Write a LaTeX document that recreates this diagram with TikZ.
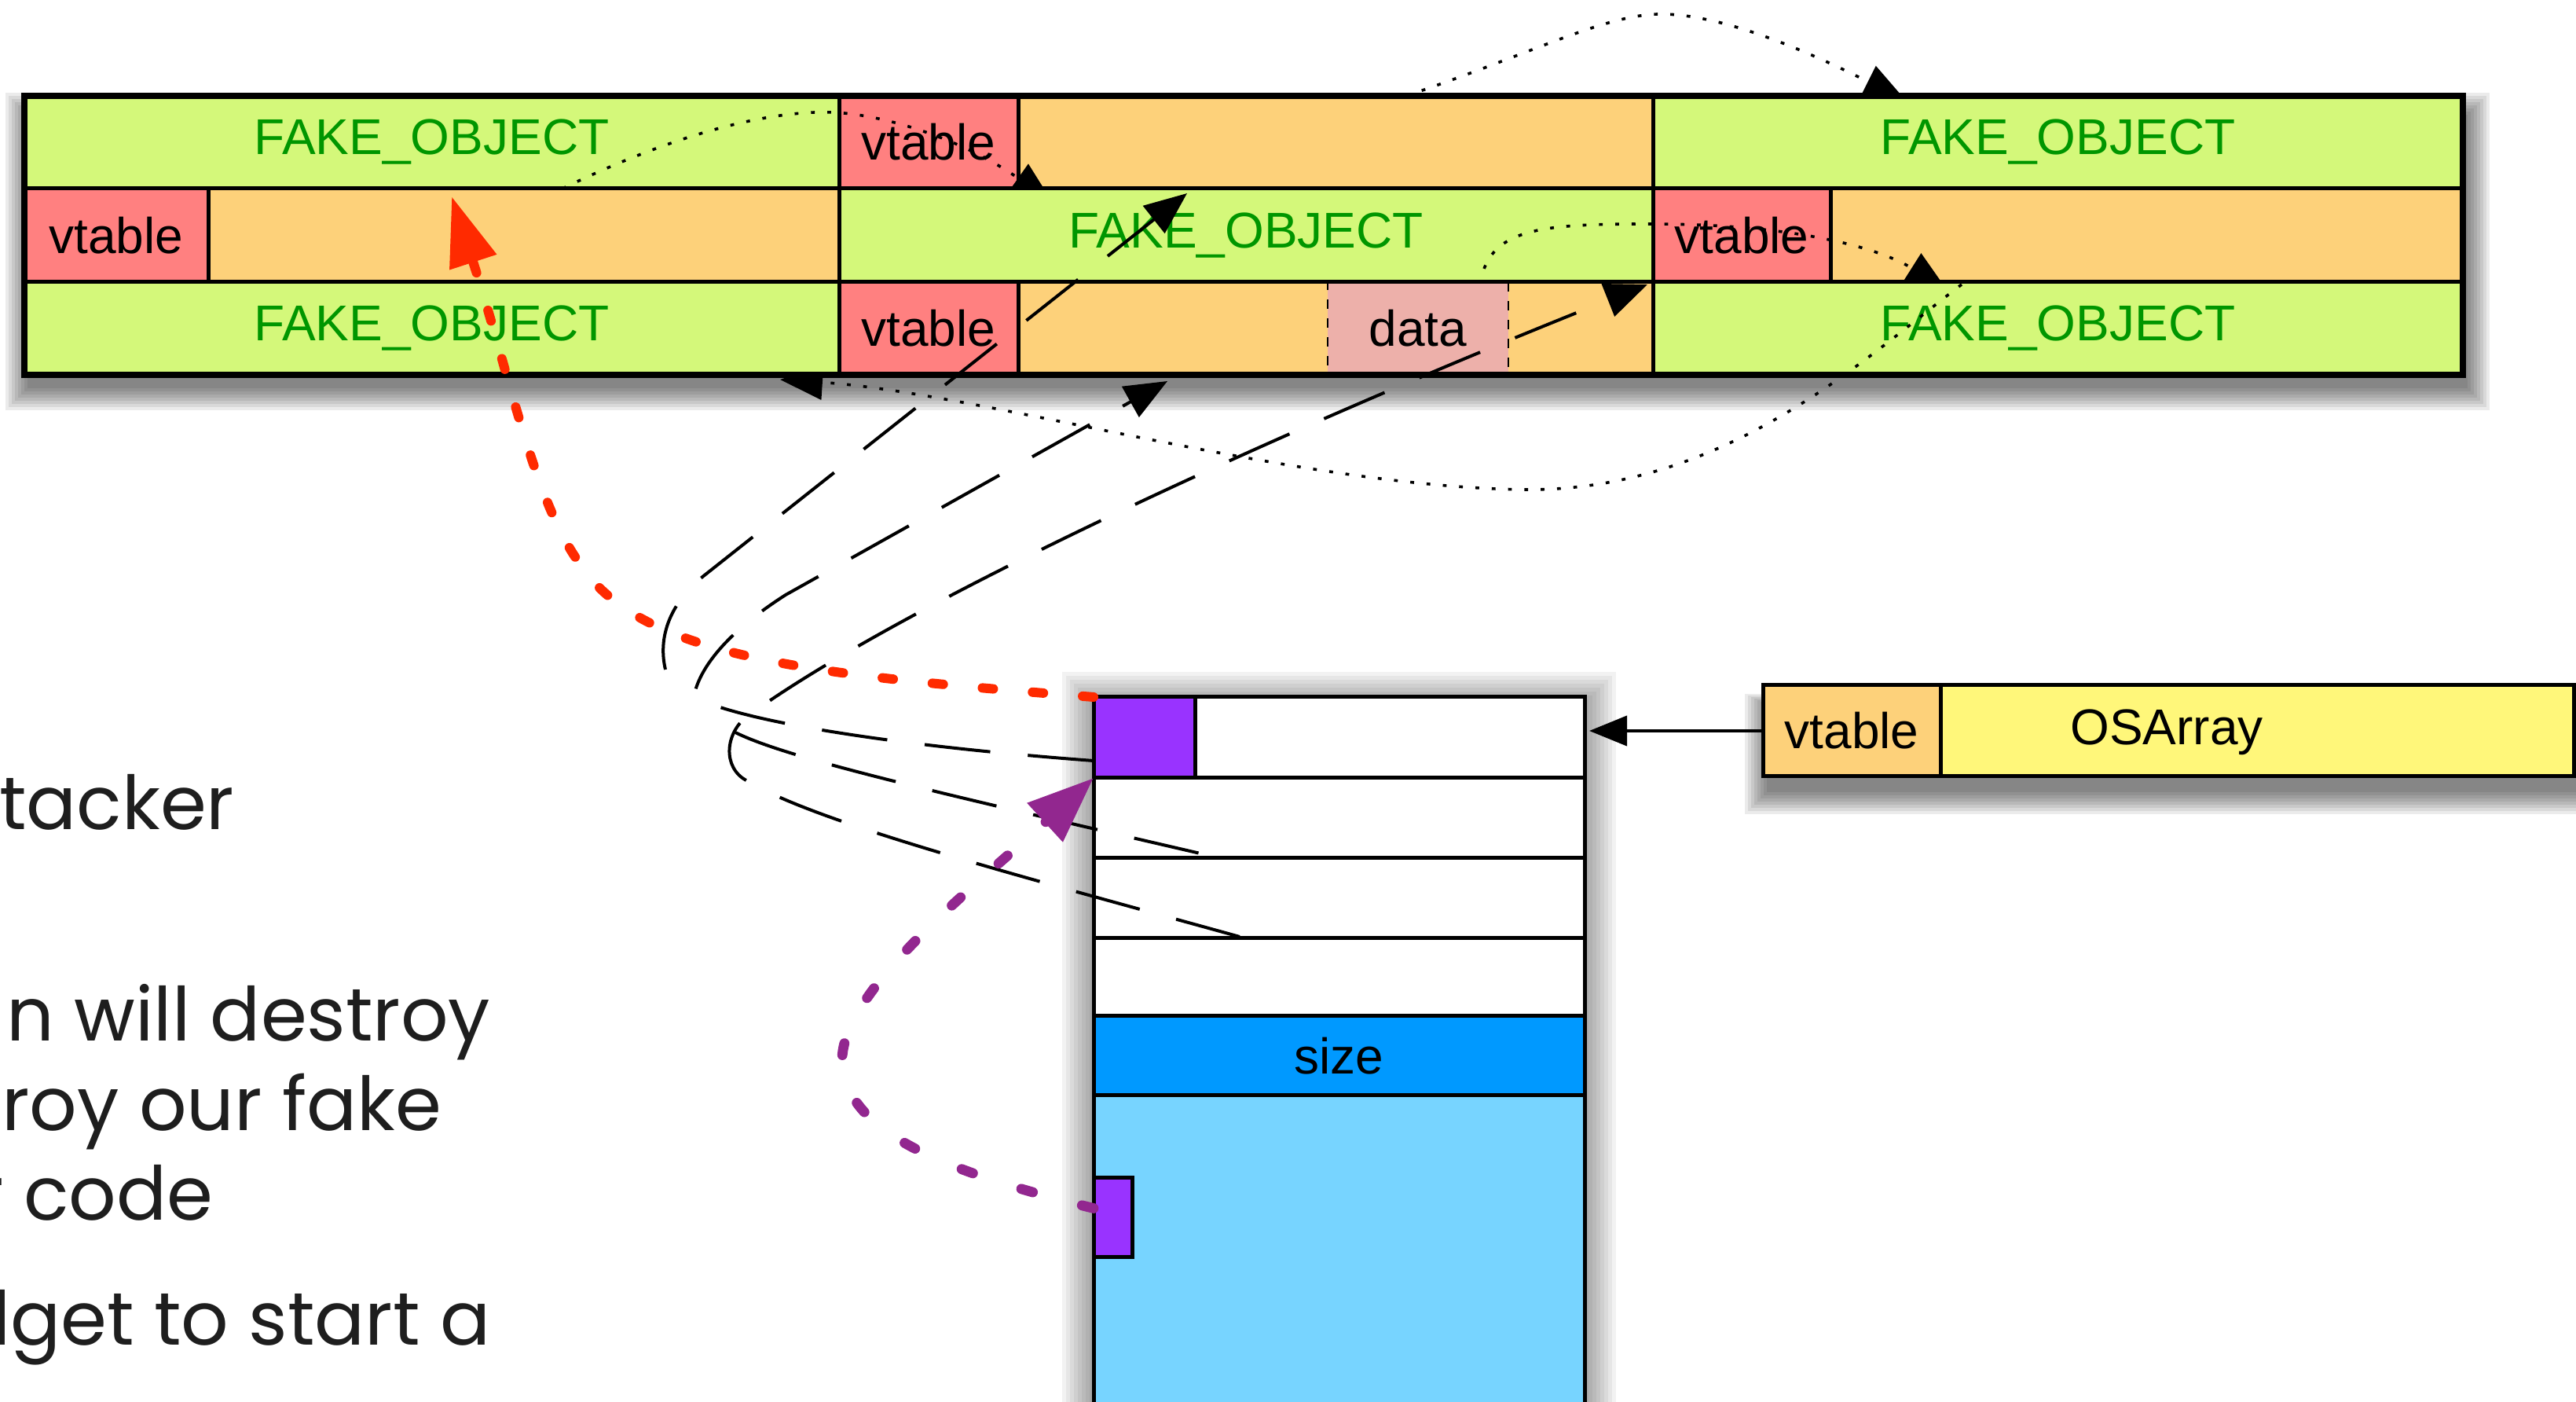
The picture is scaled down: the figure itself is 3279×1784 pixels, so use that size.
\documentclass[tikz,border=0pt]{standalone}
\usepackage{fontspec}
\setmainfont{Liberation Sans}
\newfontfamily\slidefont{Poppins}
\usetikzlibrary{arrows.meta,fit}

\definecolor{fakegreen}{RGB}{212,248,122}
\definecolor{faketext}{RGB}{0,150,0}
\definecolor{vtred}{RGB}{255,128,128}
\definecolor{slotorange}{RGB}{253,209,122}
\definecolor{datapink}{RGB}{237,176,170}
\definecolor{objpurple}{RGB}{153,51,255}
\definecolor{sizeblue}{RGB}{0,153,255}
\definecolor{storeblue}{RGB}{119,212,255}
\definecolor{osyellow}{RGB}{255,247,122}
\definecolor{hijackred}{RGB}{255,42,0}
\definecolor{pivotpurple}{RGB}{146,39,143}
\definecolor{slideink}{RGB}{30,30,30}

\begin{document}
\begin{tikzpicture}[x=0.25pt, y=-0.25pt,
  cell/.style={draw=black, line width=1.25pt, inner sep=0pt, outer sep=0pt},
  lbl/.style={font=\fontsize{16}{19}\selectfont, inner sep=0pt},
  fake/.style={lbl, text=faketext},
  arrowtip/.style={-{Triangle[length=13.5pt,width=11pt]}},
  ptr/.style={arrowtip, line width=1pt, dash pattern=on 21pt off 12pt},
  tail/.style={line width=1pt, dash pattern=on 21pt off 12pt},
  link/.style={arrowtip, line width=0.9pt, dash pattern=on 1.2pt off 4pt},
  hijack/.style={draw=hijackred, line width=3pt, line cap=round,
    dash pattern=on 3.5pt off 12.5pt, -{Triangle[length=22pt,width=15pt]}},
  pivot/.style={draw=pivotpurple, line width=3.2pt, line cap=round,
    dash pattern=on 3.8pt off 16.2pt, -{Triangle[length=21pt,width=16pt]}},
  slide/.style={font=\slidefont\fontsize{23.7}{28}\selectfont, text=slideink,
    inner sep=0pt, anchor=base east},
]
\useasboundingbox (0,0) rectangle (3279,1784);
\clip (0,0) rectangle (3279,1784);

% ---------- soft shadows ----------
\foreach \r in {0,4,...,28}{
  \fill[black, opacity=0.08] (35-\r,146-\r) rectangle (3141+\r,494+\r);
}
\foreach \r in {0,5,...,40}{
  \fill[black, opacity=0.05] (1392-\r,895-\r) rectangle (2017+\r,1800);
}
\foreach \r in {0,4,...,28}{
  \fill[black, opacity=0.08] (2249-\r,897-\r/2) rectangle (3300,1008+\r);
}

% ---------- heap spray: three columns of fake objects ----------
\node[cell, fill=fakegreen, fit={(31,122) (1068,240)}] (f1) {};
\node[cell, fill=vtred, fit={(1068,122) (1296,240)}] (vt2) {};
\node[cell, fill=slotorange, fit={(1296,122) (2104,240)}] (o2) {};
\node[cell, fill=fakegreen, fit={(2104,122) (3135,240)}] (f3) {};

\node[cell, fill=vtred, fit={(31,240) (265,359)}] (vt1) {};
\node[cell, fill=slotorange, fit={(265,240) (1068,359)}] (o1) {};
\node[cell, fill=fakegreen, fit={(1068,240) (2104,359)}] (f2) {};
\node[cell, fill=vtred, fit={(2104,240) (2330,359)}] (vt3) {};
\node[cell, fill=slotorange, fit={(2330,240) (3135,359)}] (o3) {};

\node[cell, fill=fakegreen, fit={(31,359) (1068,477)}] (f4) {};
\node[cell, fill=vtred, fit={(1068,359) (1296,477)}] (vt4) {};
\node[cell, fill=slotorange, fit={(1296,359) (2104,477)}] (o4) {};
\node[cell, fill=fakegreen, fit={(2104,359) (3135,477)}] (f5) {};

\node[draw=black, dashed, line width=0.6pt, fill=datapink, inner sep=0pt,
  fit={(1690,359) (1920,477)}] (data) {};
\draw[line width=1.25pt] (f2.south west) -- (f2.south east);
\draw[line width=2pt] (f1.north west) rectangle (f5.south east);

\node[fake] (f1t) at (f1) {FAKE\_OBJECT};
\node[fake] (f2t) at (f2) {FAKE\_OBJECT};
\node[fake] (f3t) at (f3) {FAKE\_OBJECT};
\node[fake] (f4t) at (f4) {FAKE\_OBJECT};
\node[fake] (f5t) at (f5) {FAKE\_OBJECT};
\node[lbl] (vt1t) at (vt1) {vtable};
\node[lbl] (vt2t) at (vt2) {vtable};
\node[lbl] (vt3t) at (vt3) {vtable};
\node[lbl] (vt4t) at (vt4) {vtable};
\node[lbl] (datat) at (data) {data};

% ---------- OSArray storage ----------
\node[cell, fill=white, fit={(1392,887) (2017,990)}] (s0) {};
\node[cell, fill=objpurple, fit={(1392,887) (1521,990)}] (obj) {};
\node[cell, fill=white, fit={(1392,990) (2017,1092)}] (s1) {};
\node[cell, fill=white, fit={(1392,1092) (2017,1194)}] (s2) {};
\node[cell, fill=white, fit={(1392,1194) (2017,1293)}] (s3) {};
\node[cell, fill=sizeblue, fit={(1392,1293) (2017,1394)}] (size) {};
\node[cell, fill=storeblue, fit={(1392,1394) (2017,1810)}] (store) {};
\node[cell, fill=objpurple, fit={(1392,1499) (1441,1600)}] (gadget) {};
\node[lbl] (sizet) at (size) {size};

% ---------- OSArray object ----------
\node[cell, fill=slotorange, fit={(2244,872) (2470,988)}] (osvt) {};
\node[cell, fill=osyellow, fit={(2470,872) (3276,988)}] (osbody) {};
\node[lbl] (osvtt) at (osvt) {vtable};
\node[lbl] (osname) at (2758,932) {OSArray};
\draw[line width=1pt, -{Triangle[length=12pt,width=9.5pt]}]
  (osvt.west) -- ([xshift=1.5pt]s0.east |- osvt.west);

% ---------- slide text ----------
\node[slide] (t1) at (299,1056) {ttacker};
\node[slide] (t2) at (625,1325) {n will destroy};
\node[slide] (t3) at (563,1439) {roy our fake};
\node[slide] (t4) at (272,1553) {r code};
\node[slide] (t5) at (625,1712) {lget to start a};

% ---------- connector end points ----------
\coordinate (pBend) at (847,852);
\coordinate (pHead) at (1511,246);
\coordinate (qFoot) at (1392,968);
\coordinate (qCorner) at (883,887);
\coordinate (qHead) at (1486,485);
\coordinate (rFoot) at (1578,1192);
\coordinate (rHead) at (2097,362);
\coordinate (lBranch) at (934,931);
\coordinate (lFoot) at (1545,1090);
\coordinate (aStart) at (716,240);
\coordinate (aHead) at (1340,258);
\coordinate (bStart) at (1790,122);
\coordinate (bHead) at (2426,128);
\coordinate (cStart) at (1884,362);
\coordinate (cHead) at (2479,370);
\coordinate (dStart) at (2497,362);
\coordinate (dHead) at (993,483);
\coordinate (rTip) at (575,250);

% ---------- pointers from the array slots ----------
\draw[ptr] (pBend) .. controls (836,805) and (858,762) .. (898,731) -- (pHead);
\draw[ptr] (qFoot) .. controls (1150,950) and (950,920) .. (qCorner)
  .. controls (890,850) and (925,805) .. (1000,757) -- (qHead);
\draw[ptr] (rFoot) .. controls (1300,1115) and (1030,1045) .. (945,990)
  .. controls (918,970) and (925,925) .. (959,906)
  .. controls (1150,770) and (1600,560) .. (rHead);
\draw[tail] (lBranch) .. controls (1000,965) and (1200,1010) .. (lFoot);

% ---------- vtable links between fake objects ----------
\begin{scope}
  \clip (0,0) rectangle (3279,240);
  \draw[link] (aStart) .. controls (860,170) and (980,140) .. (1060,143)
    .. controls (1130,146) and (1230,180) .. (aHead);
\end{scope}
\begin{scope}
  \clip (0,0) rectangle (3279,122);
  \draw[link] (bStart) .. controls (1950,68) and (2040,20) .. (2110,18)
    .. controls (2200,16) and (2330,80) .. (bHead);
\end{scope}
\begin{scope}
  \clip (0,0) rectangle (3279,359);
  \draw[link] (cStart) .. controls (1895,290) and (1960,285) .. (2100,285)
    .. controls (2300,285) and (2400,320) .. (cHead);
\end{scope}
\begin{scope}
  \clip (0,477) rectangle (3279,1784) (2104,359) rectangle (3279,477);
  \draw[link] (dStart) .. controls (2380,450) and (2200,625) .. (1942,623)
    .. controls (1650,620) and (1250,500) .. (dHead);
\end{scope}

% ---------- hijacked object and stack pivot ----------
\draw[hijack] (obj.north west) .. controls (1050,860) and (820,840) .. (740,720)
  .. controls (680,640) and (650,480) .. (rTip);
\draw[pivot] ([yshift=3pt]gadget.west) .. controls (1200,1490) and (1075,1440) .. (1072,1350)
  .. controls (1070,1260) and (1250,1120) .. (obj.south west);
\end{tikzpicture}
\end{document}
